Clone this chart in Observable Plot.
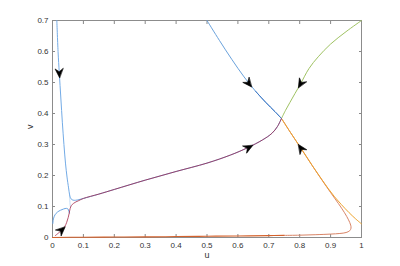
<!DOCTYPE html>
<html><head><meta charset="utf-8">
<script src="https://cdn.jsdelivr.net/npm/d3@7"></script>
<script src="https://cdn.jsdelivr.net/npm/@observablehq/plot@0.6"></script>
<style>body{margin:0;background:#fff}</style>
</head><body><div id="chart"></div>
<script>
// ---- data ----
const xTicks = [0,0.1,0.2,0.3,0.4,0.5,0.6,0.7,0.8,0.9,1];
const yTicks = [0,0.1,0.2,0.3,0.4,0.5,0.6,0.7];

const steepU = [0.014,0.018,0.022,0.027,0.032,0.037,0.042,0.047,0.052,0.055,0.058,0.063,0.07,0.08];
const steepV = [0.70,0.60,0.53,0.45,0.37,0.30,0.24,0.195,0.16,0.14,0.128,0.122,0.12,0.121];

const mainU = [0.1,0.15,0.2,0.3,0.4,0.5,0.576,0.63,0.68,0.71,0.728,0.741];
const mainV = [0.126,0.14,0.155,0.185,0.213,0.24,0.266,0.289,0.315,0.336,0.358,0.384];

const redLowU = [0.009,0.02,0.03,0.04,0.046,0.051,0.054,0.057,0.061,0.068,0.076,0.085];
const redLowV = [0.006,0.015,0.024,0.036,0.049,0.065,0.078,0.093,0.103,0.11,0.115,0.119];

const blueLowU = [0.001,0.003,0.008,0.016,0.026,0.036,0.045,0.05,0.053,0.055];
const blueLowV = [0.045,0.06,0.073,0.082,0.088,0.092,0.094,0.092,0.085,0.078];

const thinU = [0.055,0.056,0.057,0.058];
const thinV = [0.14,0.12,0.105,0.098];

const topBlueU = [0.5,0.54,0.58,0.62,0.657,0.69,0.72,0.741];
const topBlueV = [0.7,0.636,0.575,0.518,0.472,0.436,0.406,0.384];

const greenU = [1.0,0.95,0.9,0.86,0.83,0.803,0.785,0.768,0.754,0.741];
const greenV = [0.7,0.664,0.624,0.583,0.545,0.496,0.465,0.435,0.41,0.384];

const orangeU = [1.0,0.98,0.96,0.935,0.913,0.893,0.873,0.84,0.804,0.77,0.741];
const orangeV = [0.044,0.061,0.08,0.106,0.131,0.157,0.185,0.233,0.288,0.339,0.384];

const loopU = [0.741,0.77,0.804,0.84,0.873,0.9,0.925,0.945,0.958,0.965,0.966,0.962,0.95,0.93,0.9,0.85,0.8,0.75];
const loopV = [0.384,0.339,0.288,0.233,0.184,0.145,0.11,0.08,0.057,0.04,0.03,0.022,0.016,0.013,0.011,0.009,0.0075,0.0068];

const bottomU = [0.75,0.7,0.6,0.5,0.4,0.3,0.2,0.1,0.0];
const bottomV = [0.0068,0.006,0.005,0.004,0.003,0.002,0.0015,0.001,0.0];

const arrowU = [0.022,0.635,0.803,0.635,0.804,0.03];
const arrowV = [0.53,0.497,0.496,0.29,0.288,0.024];
const arrowCurve = ["steep","topBlue","green","red","orange","red"];

// ---- build tables ----
const pts = (us, vs) => us.map((u, i) => ({u, v: vs[i]}));
const steep = pts(steepU, steepV).concat(pts(mainU, mainV));
const red = pts(redLowU, redLowV).concat(pts(mainU, mainV));
const curves = {
  steep, red,
  topBlue: pts(topBlueU, topBlueV),
  green: pts(greenU, greenV),
  orange: pts(orangeU, orangeV)
};

const W = 400, H = 266, mL = 52, mR = 39, mT = 20, mB = 29;
const kx = (W - mL - mR) / 1, ky = (H - mT - mB) / 0.7;

const arrows = arrowU.map((u, i) => {
  const c = curves[arrowCurve[i]];
  const v = arrowV[i];
  let best = 0, bd = Infinity;
  for (let j = 0; j < c.length - 1; j++) {
    const mu = (c[j].u + c[j+1].u) / 2, mv = (c[j].v + c[j+1].v) / 2;
    const d = ((mu - u) * kx) ** 2 + ((mv - v) * ky) ** 2;
    if (d < bd) { bd = d; best = j; }
  }
  const dx = (c[best+1].u - c[best].u) * kx, dy = (c[best+1].v - c[best].v) * ky;
  return {u, v, rot: Math.atan2(dx, dy) * 180 / Math.PI};
});

const arrowHead = {
  draw(context, l) {
    context.moveTo(0, -l);
    context.lineTo(4, 0);
    context.lineTo(0, -l * 0.33);
    context.lineTo(-4, 0);
    context.closePath();
  }
};

const fmt = d => String(+d.toFixed(1));
const cr = "catmull-rom";

const plot = Plot.plot({
  width: W, height: H,
  marginLeft: mL, marginRight: mR, marginTop: mT, marginBottom: mB,
  style: {fontFamily: "'Liberation Sans', Arial, sans-serif", fontSize: "8px", color: "#333", background: "#fff"},
  x: {domain: [0, 1]},
  y: {domain: [0, 0.7]},
  marks: [
    Plot.axisX(xTicks, {anchor: "bottom", tickSize: -3, tickPadding: 8, tickFormat: fmt, label: null, stroke: "#888"}),
    Plot.axisX(xTicks, {anchor: "top", tickSize: -3, tickFormat: () => "", label: null, stroke: "#888"}),
    Plot.axisY(yTicks, {anchor: "left", tickSize: -3, tickPadding: 7, tickFormat: fmt, label: null, stroke: "#888"}),
    Plot.axisY(yTicks, {anchor: "right", tickSize: -3, tickFormat: () => "", label: null, stroke: "#888"}),
    Plot.frame({stroke: "#8c8c8c"}),
    // bottom branch and loop
    Plot.line(pts(bottomU, bottomV), {x: "u", y: "v", stroke: "#d4622c", strokeWidth: 1.1, curve: cr}),
    Plot.line(pts(loopU, loopV), {x: "u", y: "v", stroke: "#d98466", strokeWidth: 1, curve: cr}),
    Plot.line(curves.orange, {x: "u", y: "v", stroke: "#eea32c", strokeWidth: 1, curve: cr}),
    Plot.line(curves.green, {x: "u", y: "v", stroke: "#9fc262", strokeWidth: 1, curve: cr}),
    Plot.line(curves.topBlue, {x: "u", y: "v", stroke: "#6aa2dc", strokeWidth: 1, curve: cr}),
    Plot.line(curves.topBlue.filter(d => d.u >= 0.657), {x: "u", y: "v", stroke: "#3d76c4", strokeWidth: 1, curve: cr}),
    // left side
    Plot.line(pts(blueLowU, blueLowV), {x: "u", y: "v", stroke: "#6aa4e2", strokeWidth: 1, curve: cr}),
    Plot.line(pts(thinU, thinV), {x: "u", y: "v", stroke: "#b4d3f2", strokeWidth: 0.8, curve: cr}),
    Plot.line(steep, {x: "u", y: "v", stroke: "#73abe6", strokeWidth: 1, curve: cr}),
    Plot.line(red, {x: "u", y: "v", stroke: "#a01f42", strokeWidth: 0.9, strokeOpacity: 0.85, curve: cr}),
    // arrows
    Plot.vector(arrows, {x: "u", y: "v", rotate: "rot", length: 9, anchor: "middle", shape: arrowHead, fill: "black", stroke: "black", strokeWidth: 0.6}),
    // axis labels
    Plot.text(["u"], {frameAnchor: "bottom", dy: 20, text: d => d, fontSize: 9, fill: "#333"}),
    Plot.text(["v"], {frameAnchor: "left", dx: -22, rotate: -90, text: d => d, fontSize: 9, fill: "#333"})
  ]
});
document.getElementById("chart").appendChild(plot);
</script>
</body></html>
